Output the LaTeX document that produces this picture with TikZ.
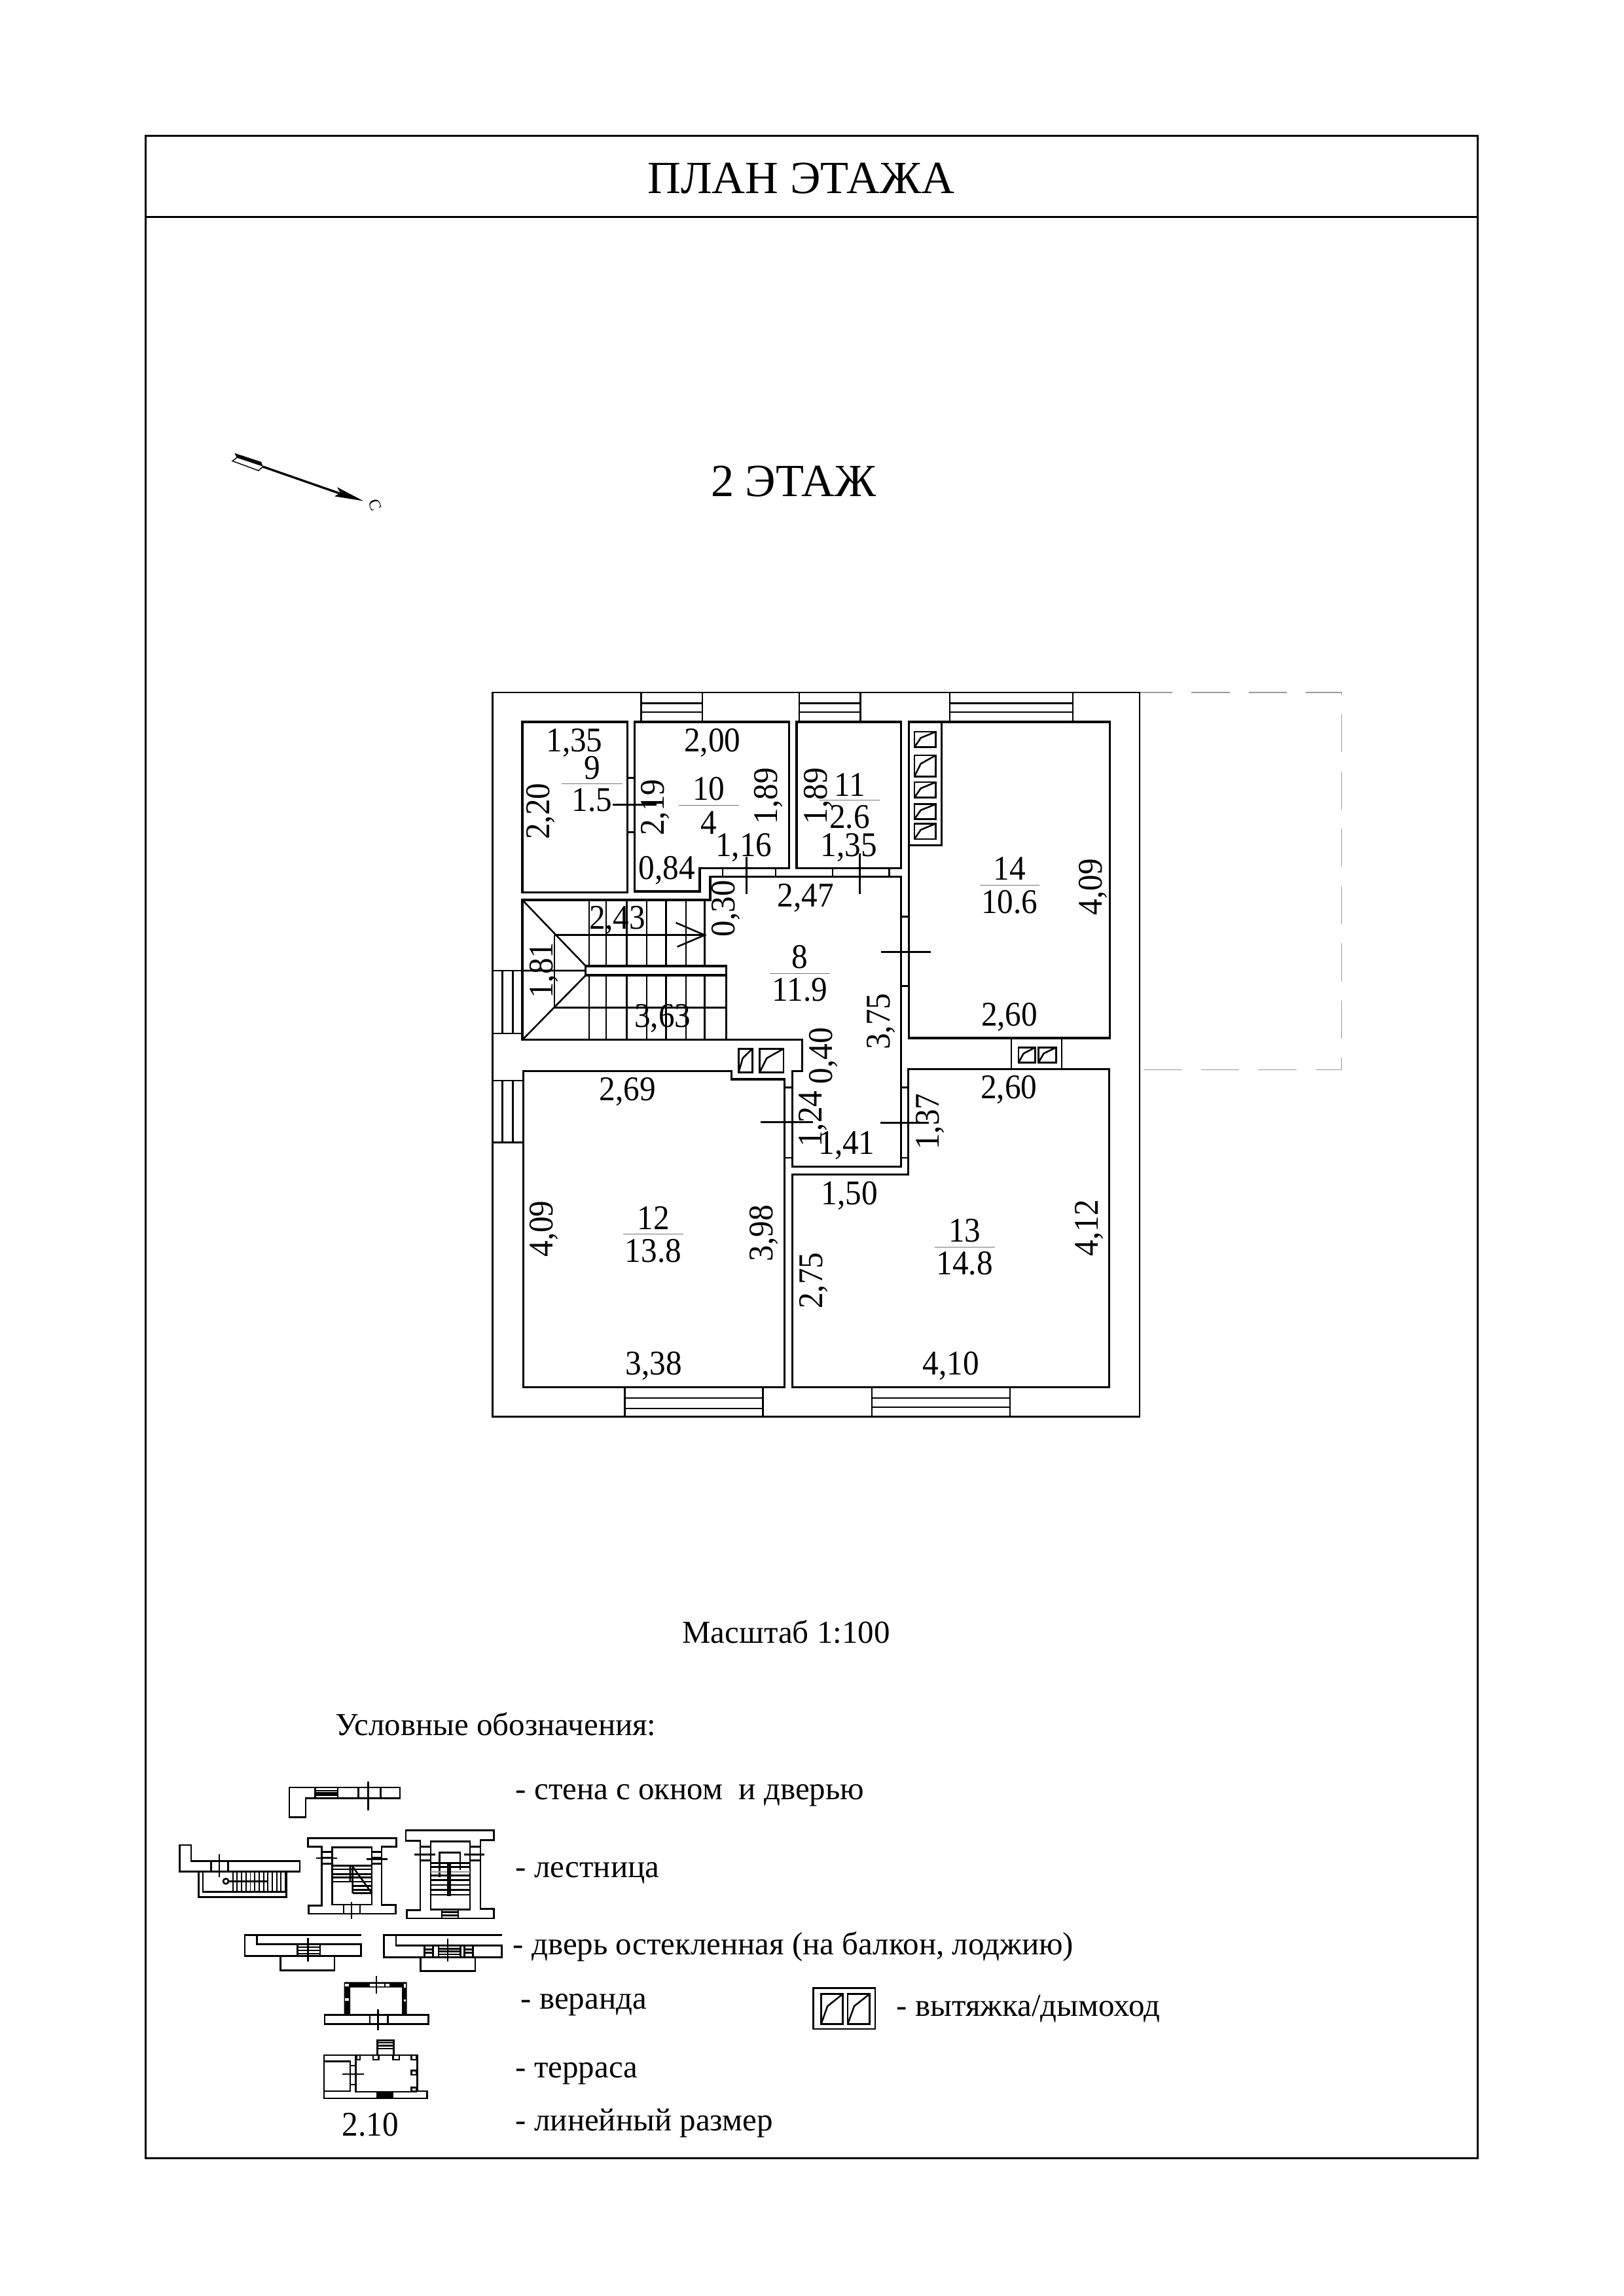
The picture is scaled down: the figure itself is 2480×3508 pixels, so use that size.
\documentclass[tikz,border=0pt]{standalone}
\usepackage{fontspec}
\setmainfont{Liberation Serif}
\newfontfamily\sizefont[FakeStretch=0.93]{Liberation Serif}
\usepackage{tikz}
\usetikzlibrary{arrows}
\tikzstyle{wall} = [line width=.74pt,line join=miter]
\tikzstyle{thinwall} = [line width=.62pt]
\tikzstyle{tick} = [line width=.72pt]
\tikzstyle{fracline} = [line width=.25pt,color=black!55]
\tikzstyle{dimlabel} = [inner sep=0pt,anchor=base,font=\sizefont\fontsize{12.7bp}{14bp}\selectfont]
\tikzstyle{legendtext} = [inner sep=0pt,anchor=base west,font=\fontsize{11.75bp}{14bp}\selectfont]
\tikzstyle{headline} = [inner sep=0pt,anchor=base,font=\fontsize{16.9bp}{20bp}\selectfont]

\begin{document}
\begin{tikzpicture}[x=.24bp,y=-.24bp]
	\useasboundingbox (0,0) rectangle (2480,3508);
	% Sheet frame and headings:
	\draw[line width=.72pt] (222.3,207) rectangle (2257,3297);
	\draw[line width=.72pt] (222.3,331.5) -- (2257,331.5);
	\node[headline] (title) at (1223.7,295) {ПЛАН ЭТАЖА};
	\node[headline] (floor) at (1212.5,758) {2 ЭТАЖ};

	% North arrow:
	\draw[line width=.8pt] (401.7,713) -- (525,756);
	\fill (555,765.3) -- (515,744.3) -- (520,753) -- (511,758.3) -- cycle;
	\fill (358.3,692.3) -- (399,705.7) -- (401.7,712.7) -- (361.7,699.3) -- cycle;
	\draw[line width=.35pt] (361.7,699.3) -- (355,704.3) -- (395,719) -- (401.7,712.7);
	\node[inner sep=0pt,rotate=-70,font=\fontsize{6bp}{7bp}\selectfont] (north) at (573,771.7) {С};

	% Attached roof, dashed:
	\draw[line width=.3pt,color=black!40,dash pattern=on 14bp off 7bp,dash phase=2bp]
		(1741,1058) -- (2049.6,1058) -- (2049.6,1634.7) -- (1741,1634.7);

	% Outer walls and rooms:
	\draw[line width=.7pt] (752.5,1058) rectangle (1741,2164.5);
	\draw[wall] (798,1103) rectangle (958.3,1363.4);
	\draw[wall] (969.5,1103) -- (1205.6,1103) -- (1205.6,1326.7) -- (1069,1326.7) -- (1069,1362) -- (969.5,1362) -- cycle;
	\draw[wall] (1217,1103) rectangle (1376.6,1326.7);
	\draw[wall] (1388.8,1103) -- (1695.4,1103) -- (1695.4,1586) -- (1388.8,1586) -- cycle;
	\draw[wall] (1438.2,1103) -- (1438.2,1291.5) -- (1388.8,1291.5);
	% hall with the stair well
	\draw[wall] (798,1375) -- (1085,1375) -- (1085,1339.7) -- (1376.6,1339.7) -- (1376.6,1782.5) -- (1210.5,1782.5)
		-- (1210.5,1636.4) -- (1225.7,1636.4) -- (1225.7,1588.8) -- (798,1588.8) -- cycle;
	\draw[wall] (799.4,1636.4) -- (1117.2,1636.4) -- (1117.2,1649) -- (1198.9,1649) -- (1198.9,2119.3) -- (799.4,2119.3) -- cycle;
	\draw[wall] (1387.5,1633.3) -- (1694.8,1633.3) -- (1694.8,2119.3) -- (1210.3,2119.3) -- (1210.3,1794.8) -- (1387.5,1794.8) -- cycle;

	% Windows in the long walls:
	\foreach \xa/\xb in {979.7/1073,1221/1314.5,1450.8/1639}{%
		\draw[thinwall] (\xa,1058) -- (\xa,1103) (\xb,1058) -- (\xb,1103);
		\draw[thinwall] (\xa,1074.4) -- (\xb,1074.4) (\xa,1088) -- (\xb,1088);
	}
	\foreach \xa/\xb/\yc in {954.7/1165.4/2151.9,1332/1542.9/2150}{%
		\draw[thinwall] (\xa,2119.3) -- (\xa,2164.5) (\xb,2119.3) -- (\xb,2164.5);
		\draw[thinwall] (\xa,2135.8) -- (\xb,2135.8) (\xa,\yc) -- (\xb,\yc);
	}
	\foreach \ya/\yb in {1483/1579,1651/1745.4}{%
		\draw[thinwall] (752.5,\ya) -- (798,\ya) (752.5,\yb) -- (798,\yb);
		\draw[thinwall] (767.7,\ya) -- (767.7,\yb) (783.3,\ya) -- (783.3,\yb);
	}

	% Doors: jambs and the tick across
	\foreach \ya/\yb/\xa/\xb in {1188.3/1271.3/958.3/969.5,1400.2/1506.6/1376.6/1388.8,1661.2/1769/1198.9/1210.5,1661.2/1769/1377/1387.5}{%
		\draw[thinwall] (\xa,\ya) -- (\xb,\ya) (\xa,\yb) -- (\xb,\yb);
	}
	\foreach \xa/\xb in {1103.8/1185,1272/1358.3}{%
		\draw[thinwall] (\xa,1326.7) -- (\xa,1339.7) (\xb,1326.7) -- (\xb,1339.7);
	}
	\foreach \xa/\xb/\y in {936.4/1003.4/1229.4,1346.4/1422.1/1454.8,1161.9/1242.2/1714.8,1345/1419.4/1715}{%
		\draw[tick] (\xa,\y) -- (\xb,\y);
	}
	\foreach \x/\ya/\yb in {1140.4/1309/1366,1313.6/1304/1366}{%
		\draw[tick] (\x,\ya) -- (\x,\yb);
	}

	% Stairs:
	\foreach \x in {899.8,926.2,957.4,987.8,1017.7,1048,1076.6}{%
		\draw[thinwall] (\x,1375) -- (\x,1476);
		\draw[thinwall] (\x,1490) -- (\x,1588.8);
	}
	\draw[wall] (894.9,1476) rectangle (1109.6,1490);
	\draw[thinwall] (1109.6,1490) -- (1109.6,1588.8);
	\draw[thinwall] (847,1428.7) -- (1076.6,1428.7) (847,1539.4) -- (1109.6,1539.4) (847,1428.7) -- (847,1539.4);
	\draw[thinwall] (798,1375) -- (894.9,1476) (798,1588.8) -- (894.9,1490) (798,1483) -- (894.9,1483);
	\draw[thinwall] (1032.4,1409.7) -- (1076.6,1428.7) -- (1034.6,1446.5);

	% Flues:
	\draw[thinwall] (1545,1586) -- (1545,1633.3) (1622,1586) -- (1622,1633.3);
	\foreach \xa/\ya/\xb/\yb in {1128.4/1602.3/1149.4/1638.3,1160.5/1602.3/1197/1638.3,
		1396.9/1117.9/1429.6/1141.6,1396.9/1153.9/1429.6/1186.3,1396.9/1195/1429.6/1218.7,1396.9/1228.6/1429.6/1251.5,1396.9/1258.3/1429.6/1282,
		1555.9/1600.3/1581.7/1623.6,1586.3/1600.3/1613.3/1623.6,
		1254.3/3046.7/1287.3/3092.7,1295/3046.7/1328.3/3092.7}{%
		\draw[thinwall] (\xa,\ya) rectangle (\xb,\yb);
		\draw[thinwall] (\xa,\yb) -- ({\xa+.3*(\xb-\xa)},{\yb-.6*(\yb-\ya)}) -- (\xb,\ya);
	}

	% Room number over area:
	\foreach \xa/\xb/\y/\xn/\yn/\num/\ye/\area [count=\i] in {
		858.3/950.7/1197.4/904.3/1190.3/9/1239.7/1.5,
		1037.3/1129.3/1230.2/1082.8/1222.7/10/1274/4,
		1252/1343.5/1222.3/1298/1216/11/1265.4/2.6,
		1176/1268/1487.2/1222/1479.7/8/1529.5/11.9,
		952/1044.4/1885.5/998/1878.6/12/1928/13.8,
		1427.7/1519.6/1905.4/1473.6/1897.7/13/1947.5/14.8,
		1496.8/1588/1352.4/1542.1/1344.5/14/1395/10.6}{%
		\draw[fracline] (\xa,\y) -- (\xb,\y);
		\node[dimlabel] (room\i) at (\xn,\yn) {\num};
		\node[dimlabel] (area\i) at (\xn,\ye) {\area};
	}

	% Sizes along the walls:
	\foreach \x/\y/\t [count=\i] in {
		877.5/1148.7/{1,35},1088.2/1148.7/{2,00},1136.4/1308.1/{1,16},1296.7/1308.1/{1,35},
		1018.6/1343.7/{0,84},1231/1385.2/{2,47},943.1/1419.6/{2,43},1012.3/1569.8/{3,63},
		958.7/1681.1/{2,69},1293.5/1763.8/{1,41},1298/1840.3/{1,50},998.9/2100.6/{3,38},
		1452.6/2100.6/{4,10},1541.4/1678.5/{2,60},1542.1/1567.9/{2,60}}{%
		\node[dimlabel] (dimh\i) at (\x,\y) {\t};
	}
	\foreach \x/\y/\t [count=\i] in {
		839.1/1239.7/{2,20},1014.5/1233.7/{2,19},1187.7/1216/{1,89},1263.2/1216/{1,89},
		1122.6/1388/{0,30},844.9/1482.8/{1,81},1359.2/1560.8/{3,75},1271.2/1613/{0,40},
		1255.6/1709.8/{1,24},1434.2/1713.7/{1,37},844.9/1877.5/{4,09},1180.6/1884/{3,98},
		1256.5/1956.7/{2,75},1677.2/1876/{4,12},1683.9/1355/{4,09}}{%
		\node[dimlabel,rotate=90] (dimv\i) at (\x,\y) {\t};
	}

	% Legend texts:
	\node[legendtext,anchor=base] (scale) at (1201,2510) {Масштаб 1:100};
	\node[legendtext] (legendhead) at (512,2651) {Условные обозначения:};
	\node[legendtext] (legwall) at (787,2749) {- стена с окном\ \ и дверью};
	\node[legendtext] (legstair) at (787,2868) {- лестница};
	\node[legendtext] (legglass) at (783,2986) {- дверь остекленная (на балкон, лоджию)};
	\node[legendtext] (legveranda) at (795,3069) {- веранда};
	\node[legendtext] (legflue) at (1369,3080) {- вытяжка/дымоход};
	\node[legendtext] (legterrace) at (787,3174) {- терраса};
	\node[legendtext] (legsize) at (787,3255) {- линейный размер};
	\node[dimlabel] (sizesample) at (565.7,3263) {2.10};

	% Legend symbols:
	\begin{scope}[thinwall]
		\draw[thinwall] (1242.3,3037.3) rectangle (1337,3100);
		% wall with window and door
		\draw (442.1,2731) -- (611.1,2731) -- (611.1,2747.7) -- (467.1,2747.7) -- (467.1,2776.7) -- (442.1,2776.7) -- cycle;
		\draw (481.4,2731) -- (481.4,2747.7) (516.1,2731) -- (516.1,2747.7) (547.5,2731) -- (547.5,2747.7) (581.4,2731) -- (581.4,2747.7);
		\foreach \y in {2736,2739.3,2742.7}{\draw (481.4,\y) -- (516.1,\y);}
		\draw (562.5,2721.7) -- (562.5,2765.7);
		% straight stair
		\draw (274.3,2819) -- (292.1,2819) -- (292.1,2843.3) -- (458.2,2843.3) -- (458.2,2859.3) -- (274.3,2859.3) -- cycle;
		\draw (322.5,2843.3) -- (322.5,2859.3) (348.6,2843.3) -- (348.6,2859.3) (335,2832.7) -- (335,2868.3);
		\draw (303.6,2859.3) -- (303.6,2898.3) -- (437.5,2898.3) -- (437.5,2859.3);
		\draw (310,2859.3) -- (310,2890.7) -- (437.5,2890.7);
		\foreach \n in {0,...,12}{\draw[line width=.45pt] ({355.7+\n*6.7},2859.3) -- ({355.7+\n*6.7},2890.7);}
		\draw (345,2874.3) circle (4);
		\draw (349,2874.3) -- (410,2874.3);
		% dog-leg stair
		\draw (470.7,2808.3) -- (605.4,2808.3) -- (605.4,2821.7) -- (583.2,2821.7) -- (583.2,2910.7) -- (604.7,2910.7) -- (604.7,2924)
			-- (471.4,2924) -- (471.4,2911.7) -- (491.4,2911.7) -- (491.4,2821.7) -- (470.7,2821.7) -- cycle;
		\draw (507.5,2822.3) rectangle (568.2,2910);
		\foreach \y in {2829.3,2838.3,2847.3}{\draw (491.4,\y) -- (507.5,\y) (568.2,\y) -- (583.2,\y);}
		\draw (483.2,2839) -- (515.4,2839) (560,2840.7) -- (592.1,2840.7);
		\foreach \y in {2850.7,2856,2863.3,2868.3,2875}{\draw (507.5,\y) -- (568.2,\y);}
		\foreach \y in {2881.7,2887.3,2892.7}{\draw (538.6,\y) -- (568.2,\y);}
		\draw (535,2850.7) -- (535,2875) (538.6,2850.7) -- (538.6,2892.7) (538.6,2851.7) -- (568.2,2892.7);
		\draw (525,2910) -- (525,2924) (550,2910) -- (550,2924) (536.8,2905.7) -- (536.8,2932.3);
		% U-shaped stair
		\draw (620,2796.7) -- (754.6,2796.7) -- (754.6,2811.7) -- (733.9,2811.7) -- (733.9,2916.7) -- (754.6,2916.7) -- (754.6,2931)
			-- (621.4,2931) -- (621.4,2918.3) -- (642.1,2918.3) -- (642.1,2812.7) -- (620,2812.7) -- cycle;
		\draw (658.2,2813.3) rectangle (717.9,2917.3);
		\foreach \y in {2821.7,2833.3,2842.7}{\draw (642.1,\y) -- (658.2,\y) (717.9,\y) -- (733.9,\y);}
		\draw (633.2,2833.3) -- (665.4,2833.3) (709.3,2833.3) -- (740.4,2833.3);
		\draw (671.4,2868.3) -- (671.4,2830.7) -- (702.9,2830.7) -- (702.9,2857);
		\foreach \y in {2846.7,2852.7,2865.7,2872.7,2880,2887.3,2895}{\draw (658.2,\y) -- (717.9,\y);}
		\draw[color=black!40] (658.2,2860) -- (717.9,2860);
		\draw (684.3,2846.7) -- (684.3,2897) (687.5,2846.7) -- (687.5,2897);
		\draw (675,2917.3) -- (675,2931) (700,2917.3) -- (700,2931) (675,2921.7) -- (700,2921.7) (675,2926.7) -- (700,2926.7);
		% glazed doors
		\draw (551.7,2956.7) -- (374,2956.7) -- (374,2988.3) -- (551.7,2988.3) -- (551.7,2970.7) -- (392.7,2970.7) -- (392.7,2956.7);
		\draw (454.3,2970.7) -- (454.3,2988.3) (489,2970.7) -- (489,2988.3);
		\foreach \y in {2975,2980,2985}{\draw (454.3,\y) -- (489,\y);}
		\draw (470.3,2960.7) -- (470.3,2996.7);
		\draw (428.3,2988.3) -- (428.3,3010.7) -- (511,3010.7) -- (511,2988.3);
		\draw (766.7,2956.7) -- (586.7,2956.7) -- (586.7,2990.7) -- (766.7,2990.7) -- (766.7,2972.3) -- (605,2972.3) -- (605,2956.7);
		\foreach \x in {648.3,661.7,670,703.3,709.3,722.7}{\draw (\x,2972.3) -- (\x,2990.7);}
		\foreach \y in {2978.3,2983.3}{\draw (648.3,\y) -- (661.7,\y) (709.3,\y) -- (722.7,\y);}
		\foreach \y in {2977.3,2981.7,2986}{\draw (670,\y) -- (703.3,\y);}
		\draw (684,2961.7) -- (684,2997.3);
		\draw (642.3,2990.7) -- (642.3,3011.7) -- (726,3011.7) -- (726,2990.7);
		% veranda
		\fill (525.7,3078.3) -- (525.7,3028.3) -- (621.7,3028.3) -- (621.7,3078.3) -- (614,3078.3) -- (614,3036.7) -- (535,3036.7) -- (535,3078.3) -- cycle;
		\foreach \xa/\ya/\xb/\yb in {565/3031/586.7/3035,589.3/3031/595/3035,527/3031/533/3035,527/3052.7/532.7/3057.3,617/3031/620/3037.3,617/3055/620/3058.3}{%
			\fill[white] (\xa,\ya) rectangle (\xb,\yb);
		}
		\draw (496,3078.3) rectangle (654.3,3092.7);
		\draw (565,3078.3) -- (565,3092.7) (592.7,3078.3) -- (592.7,3092.7) (575,3019.3) -- (575,3046) (577.3,3070) -- (577.3,3102.3);
		% terrace
		\draw (495,3140) -- (637.3,3140) -- (637.3,3195) -- (652.7,3195) -- (652.7,3206) -- (495,3206) -- cycle;
		\draw (495,3149.3) -- (535,3149.3) -- (535,3195) -- (495,3195);
		\draw (543.3,3140) -- (543.3,3196) -- (637.3,3196);
		\draw (535,3156) -- (543.3,3156) (535,3185) -- (543.3,3185);
		\foreach \xa/\ya/\xb/\yb in {544.3/3140/550/3147,570/3140/578.3/3147,600.7/3140/610/3147,628.3/3140/636.7/3147,628.3/3163.3/636.7/3170,628.3/3189.3/636.7/3195}{%
			\draw (\xa,\ya) rectangle (\xb,\yb);
		}
		\draw (576.7,3140) -- (576.7,3117.3) -- (601.7,3117.3) -- (601.7,3140);
		\foreach \y in {3121,3125.7,3130}{\draw (576.7,\y) -- (601.7,\y);}
		\fill (575,3196) rectangle (600.7,3205);
		\draw (523.3,3169) -- (555.7,3169);
	\end{scope}
\end{tikzpicture}
\end{document}
